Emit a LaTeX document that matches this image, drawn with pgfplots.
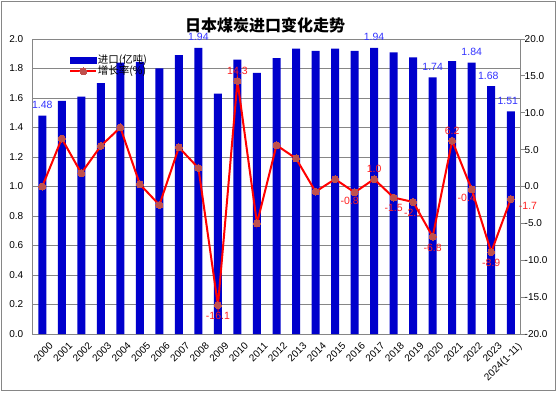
\documentclass[border=0pt]{standalone}
\usepackage{fontspec}
\setmainfont{Liberation Sans}
\newfontfamily\cjk{Noto Sans CJK SC}
\usepackage{pgfplots}
\usepackage{pgfplotstable}
\pgfplotsset{compat=1.18}
\pgfplotsset{mylegline/.style={legend image code/.code={\draw[##1, mark repeat=2, mark phase=2] plot coordinates {(0bp,0bp) (13bp,0bp) (26bp,0bp)};}}}
\definecolor{barblue}{HTML}{0000CC}
\definecolor{linered}{HTML}{FF0000}
\definecolor{mkred}{HTML}{C0504D}
\definecolor{lblblue}{HTML}{3333FF}
\definecolor{lblred}{HTML}{FF2020}
\definecolor{gridgray}{HTML}{868686}
\pgfplotstableread{
x imp growth
0 1.48 0.0
1 1.58 6.5
2 1.61 1.8
3 1.70 5.5
4 1.84 8.0
5 1.845 0.3
6 1.80 -2.5
7 1.89 5.3
8 1.94 2.5
9 1.63 -16.1
10 1.86 14.3
11 1.77 -5.0
12 1.87 5.6
13 1.935 3.8
14 1.92 -0.7
15 1.935 1.0
16 1.92 -0.8
17 1.94 1.0
18 1.91 -1.5
19 1.875 -2.1
20 1.74 -6.8
21 1.85 6.2
22 1.84 -0.4
23 1.68 -8.9
24 1.51 -1.7
}\data
\begin{document}
\begin{tikzpicture}[x=1bp,y=1bp]
\path[use as bounding box] (0,0) rectangle (556,392);
\fill[white] (0,0) rectangle (556,392);
\draw[gridgray, line width=0.8bp] (1,1.5) rectangle (555,391);
\begin{axis}[
  at={(32.5bp,58bp)}, anchor=south west,
  width=488bp, height=295bp, scale only axis,
  xmin=-0.5, xmax=24.5, ymin=0, ymax=2,
  ytick={0,0.2,0.4,0.6,0.8,1.0,1.2,1.4,1.6,1.8,2.0},
  xtick={0,...,24},
  xticklabels={2000,2001,2002,2003,2004,2005,2006,2007,2008,2009,2010,2011,2012,2013,2014,2015,2016,2017,2018,2019,2020,2021,2022,2023,2024(1-11)},
  axis line style={gridgray, line width=0.8bp},
  ymajorgrids, grid style={gridgray, line width=0.8bp},
  major tick length=0pt,
  xticklabel style={rotate=45, anchor=north east, inner sep=0pt, yshift=-10bp, xshift=-1bp, font=\fontsize{10bp}{12bp}\selectfont},
  yticklabel style={inner sep=0pt, xshift=-9bp, font=\fontsize{10bp}{12bp}\selectfont,
    /pgf/number format/fixed, /pgf/number format/fixed zerofill, /pgf/number format/precision=1,
    /pgf/number format/assume math mode=true},
]
\addplot[ybar, bar width=8bp, fill=barblue, draw=none] table[x=x,y=imp]{\data};
\addplot[draw=none, mark=none, forget plot, point meta=explicit symbolic, nodes near coords,
  nodes near coords style={text=lblblue, anchor=south, inner sep=0pt, yshift=7bp, font=\fontsize{10.5bp}{12bp}\selectfont}]
  coordinates {(0,1.48)[1.48] (8,1.94)[1.94] (17,1.94)[1.94] (20,1.74)[1.74] (22,1.84)[1.84]};
\addplot[draw=none, mark=none, forget plot, point meta=explicit symbolic, nodes near coords,
  nodes near coords style={text=lblblue, anchor=south, inner sep=0pt, yshift=6bp, xshift=-3bp, font=\fontsize{10.5bp}{12bp}\selectfont}]
  coordinates {(23,1.68)[1.68] (24,1.51)[1.51]};
\end{axis}
\begin{axis}[
  at={(32.5bp,58bp)}, anchor=south west,
  width=488bp, height=295bp, scale only axis,
  xmin=-0.5, xmax=24.5, ymin=-20, ymax=20,
  ytick={-20,-15,-10,-5,0,5,10,15,20},
  axis y line*=right, axis x line=none, xtick=\empty,
  axis line style={gridgray, line width=0.8bp},
  tick align=outside, major tick length=4bp, ytick style={gridgray, line width=0.8bp},
  yticklabel style={inner sep=0pt, xshift=0bp, font=\fontsize{10bp}{12bp}\selectfont,
    /pgf/number format/fixed, /pgf/number format/fixed zerofill, /pgf/number format/precision=1,
    /pgf/number format/assume math mode=true},
  legend cell align=left,
  legend style={at={(0.075,0.945)}, anchor=north west, draw=none, fill=none, inner sep=0pt,
    row sep=1bp, font=\cjk\fontsize{10.5bp}{11bp}\selectfont,
    nodes={inner sep=0.5bp, text height=7.5bp, text depth=1.5bp}},
]
\addlegendimage{legend image code/.code={\fill[barblue] (0bp,-3bp) rectangle (26bp,3bp);}}
\addlegendentry{进口(亿吨)}
\addplot[linered, line width=2bp, mark=*, mark size=3.5bp, mark options={fill=mkred, draw=mkred, line width=0pt}, mylegline]
  table[x=x,y=growth]{\data};
\addlegendentry{增长率(\%)}
\addplot[draw=none, mark=none, forget plot, point meta=explicit symbolic, nodes near coords,
  nodes near coords style={text=lblred, anchor=north, inner sep=0pt, yshift=-7bp, font=\fontsize{10.5bp}{12bp}\selectfont}]
  coordinates {(9,-16.1)[-16.1] (18,-1.5)[-1.5] (19,-2.1)[-2.1] (20,-6.8)[-6.8] (23,-8.9)[-8.9]};
\addplot[draw=none, mark=none, forget plot, point meta=explicit symbolic, nodes near coords,
  nodes near coords style={text=lblred, anchor=north, inner sep=0pt, yshift=-5bp, xshift=-5bp, font=\fontsize{10.5bp}{12bp}\selectfont}]
  coordinates {(16,-0.8)[-0.8] (22,-0.4)[-0.4]};
\addplot[draw=none, mark=none, forget plot, point meta=explicit symbolic, nodes near coords,
  nodes near coords style={text=lblred, anchor=south, inner sep=0pt, yshift=6bp, font=\fontsize{10.5bp}{12bp}\selectfont}]
  coordinates {(10,14.3)[14.3] (17,1.0)[1.0] (21,6.2)[6.2]};
\addplot[draw=none, mark=none, forget plot, point meta=explicit symbolic, nodes near coords,
  nodes near coords style={text=lblred, anchor=north west, inner sep=0pt, xshift=8bp, yshift=-3bp, font=\fontsize{10.5bp}{12bp}\selectfont}]
  coordinates {(24,-1.7)[-1.7]};
\end{axis}
\node[font=\cjk\bfseries\fontsize{16bp}{18bp}\selectfont] at (265,367) {日本煤炭进口变化走势};
\end{tikzpicture}
\end{document}
